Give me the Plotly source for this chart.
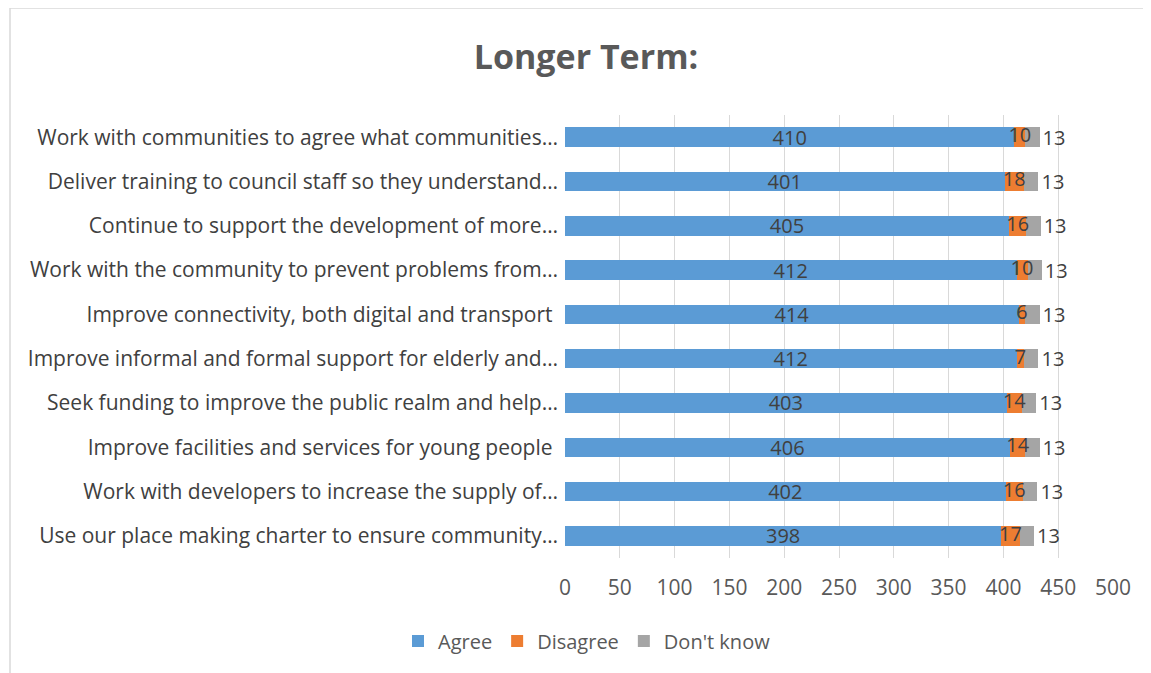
import plotly.graph_objects as go

categories = [
    "Work with communities to agree what communities…",
    "Deliver training to council staff so they understand…",
    "Continue to support the development of more…",
    "Work with the community to prevent problems from…",
    "Improve connectivity, both digital and transport ",
    "Improve informal and formal support for elderly and…",
    "Seek funding to improve the public realm and help…",
    "Improve facilities and services for young people ",
    "Work with developers to increase the supply of…",
    "Use our place making charter to ensure community…",
]
agree = [410, 401, 405, 412, 414, 412, 403, 406, 402, 398]
disagree = [10, 18, 16, 10, 6, 7, 14, 14, 16, 17]
dont_know = [13, 13, 13, 13, 13, 13, 13, 13, 13, 13]

series_names = ["Agree", "Disagree", "Don't know"]
colors = ["#5B9BD5", "#ED7D31", "#A5A5A5"]

FONT = "Open Sans"
FS = 21
TXT = "#404040"
GREY = "#595959"

OFF = 8  # page body offset
W, H = 1151 - OFF, 673 - OFF
L, R = 565 - OFF, 1151 - 1113
T, B = 115 - OFF, 673 - 558
pw, ph = W - L - R, H - T - B

fig = go.Figure()
fig.add_trace(go.Bar(
    y=categories, x=agree, name=series_names[0], orientation="h",
    marker=dict(color=colors[0], line=dict(width=0)),
    text=[str(v) for v in agree], textposition="inside",
    insidetextanchor="middle", constraintext="none",
    insidetextfont=dict(family=FONT, size=FS - 1, color=TXT),
    hoverinfo="x+y",
))
fig.add_trace(go.Bar(
    y=categories, x=disagree, name=series_names[1], orientation="h",
    marker=dict(color=colors[1], line=dict(width=0)),
    textposition="none", hoverinfo="x+y",
))
fig.add_trace(go.Bar(
    y=categories, x=dont_know, name=series_names[2], orientation="h",
    marker=dict(color=colors[2], line=dict(width=0)),
    text=[str(v) for v in dont_know], textposition="outside",
    constraintext="none",
    outsidetextfont=dict(family=FONT, size=FS - 1, color=TXT),
    cliponaxis=False, hoverinfo="x+y",
))
# Disagree labels drawn on top of the stack
fig.add_trace(go.Scatter(
    y=categories, x=[a + d / 2 for a, d in zip(agree, disagree)],
    mode="text", text=[str(v) for v in disagree],
    textposition="middle center",
    textfont=dict(family=FONT, size=FS - 1, color=TXT),
    showlegend=False, hoverinfo="skip", cliponaxis=False,
))

fig.update_layout(
    width=W, height=H,
    barmode="stack", bargap=0.56,
    paper_bgcolor="white", plot_bgcolor="white",
    margin=dict(l=L, r=R, t=T, b=B),
    font=dict(family=FONT, size=FS, color=GREY),
    title=dict(text="<b>Longer Term:</b>", x=(586 - OFF) / W, xanchor="center",
               y=1 - (57 - OFF) / H, yanchor="middle",
               font=dict(family=FONT, size=34, color=GREY)),
    legend=dict(orientation="h", x=(587 - OFF - L) / pw, xanchor="center",
                xref="paper",
                y=(ph - (641 - OFF - T)) / ph, yanchor="middle",
                font=dict(family=FONT, size=FS - 1, color=GREY),
                traceorder="normal"),
    xaxis=dict(range=[0, 500], dtick=50, showgrid=True, gridcolor="#d9d9d9",
               gridwidth=1.3, zeroline=False, showline=False,
               ticks="", ticklabelstandoff=15,
               tickfont=dict(family=FONT, size=FS, color=GREY)),
    yaxis=dict(autorange="reversed", showgrid=False, showline=False, ticks="",
               ticklabelstandoff=6,
               tickfont=dict(family=FONT, size=FS, color=TXT)),
    showlegend=True,
)

# outer chart border
fig.add_shape(type="rect", xref="paper", yref="paper",
              x0=(10 - OFF - L) / pw, x1=(W + 20 - L) / pw,
              y0=(ph - (H + 20 - T)) / ph, y1=(ph - (8 - OFF - T)) / ph,
              line=dict(color="#d9d9d9", width=1.5), fillcolor="rgba(0,0,0,0)",
              layer="below")

fig.write_html("out.html")
